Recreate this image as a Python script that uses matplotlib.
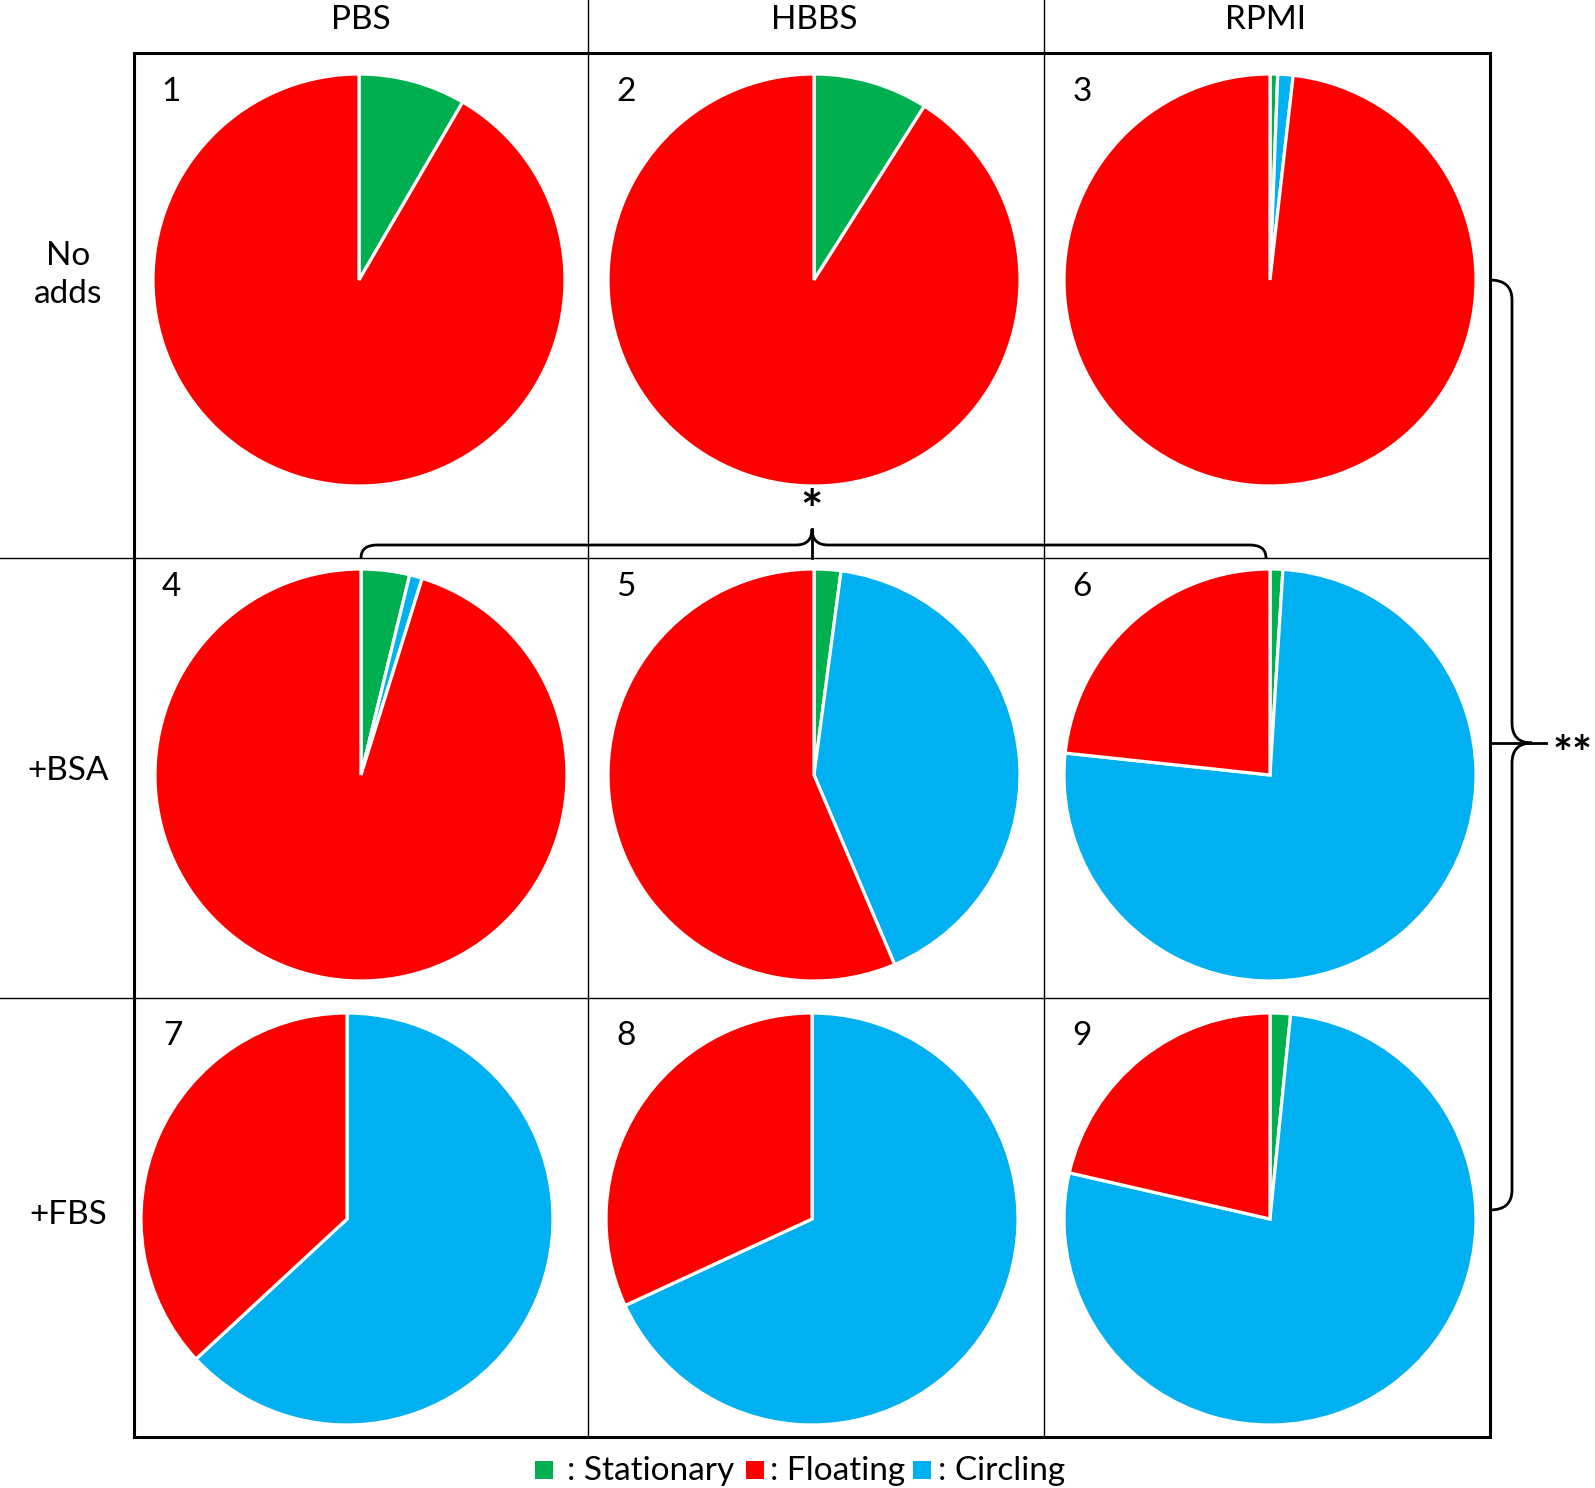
import matplotlib
matplotlib.use('Agg')
import matplotlib.pyplot as plt
from matplotlib.path import Path
from matplotlib.patches import PathPatch, Rectangle

plt.rcParams['font.family'] = ['Lato', 'DejaVu Sans']

# data (percent of cells), panels 1..9 row by row
media = ['PBS', 'HBBS', 'RPMI']
additives = ['No\nadds', '+BSA', '+FBS']
labels = ['Stationary', 'Circling', 'Floating']
colors = ['#00B050', '#00B0F0', '#FF0000']
stationary = [8.4, 9.0, 0.6, 3.8, 2.1, 1.0, 0.0, 0.0, 1.6]
circling = [0.0, 0.0, 1.2, 1.0, 41.5, 75.7, 63.1, 68.1, 77.0]
floating = [100 - s - c for s, c in zip(stationary, circling)]

W, H = 1595, 1488
fig = plt.figure(figsize=(W / 100, H / 100), dpi=100)
ax = fig.add_axes([0, 0, 1, 1])

# layout in pixel coords (y down)
col_x = [359, 814, 1270]
row_y = [280, 775, 1219]
col_shift = {3: 0, 4: 2, 7: -12, 8: -2}   # keyed by panel number
R = 206
box = (134, 53, 1490, 1437)
vlines = [588, 1044]
hlines = [558, 998]

for i in range(9):
    r, c = divmod(i, 3)
    vals = [stationary[i], circling[i], floating[i]]
    keep = [(v, col) for v, col in zip(vals, colors) if v > 0]
    # y axis is inverted, so counterclock=True here reads clockwise on screen
    ax.pie([v for v, _ in keep], colors=[col for _, col in keep],
           startangle=-90, counterclock=True,
           center=(col_x[c] + col_shift.get(i + 1, 0), row_y[r]), radius=R,
           wedgeprops=dict(edgecolor='white', linewidth=2.3))
    ax.text(col_x[c] - 188 + (2 if r == 2 and c == 0 else 0), row_y[r] - 188 + (0 if r < 2 else 5),
            str(i + 1), fontsize=24, ha='center', va='center')

# grid
for x in vlines:
    ax.plot([x, x], [0, box[3]], color='black', lw=1.0)
for y in hlines:
    ax.plot([0, box[2]], [y, y], color='black', lw=1.0)
ax.add_patch(Rectangle((box[0], box[1]), box[2] - box[0], box[3] - box[1],
                       fill=False, edgecolor='black', lw=2.2))

# headers
for c, m in enumerate(media):
    ax.text([361, 814, 1266][c], 20, m, fontsize=24, ha='center', va='center')
for r, a in enumerate(additives):
    ax.text(68, [275, 771, 1215][r], a, fontsize=24, ha='center', va='center',
            linespacing=1.3)

# horizontal brace with *
x0, x1, xm, yb, yh, yt, k = 361, 1266, 812, 558, 545, 529, 16
verts = [(x0, yb), (x0, yh), (x0 + k, yh), (xm - k, yh), (xm, yh), (xm, yt),
         (xm, yh), (xm + k, yh), (x1 - k, yh), (x1, yh), (x1, yb)]
codes = [Path.MOVETO, Path.CURVE3, Path.CURVE3, Path.LINETO, Path.CURVE3, Path.CURVE3,
         Path.CURVE3, Path.CURVE3, Path.LINETO, Path.CURVE3, Path.CURVE3]
ax.add_patch(PathPatch(Path(verts, codes), fill=False, lw=2.0, edgecolor='black'))
ax.plot([xm, xm], [yt, yb], color='black', lw=2.0)
ax.text(xm, 514, '*', fontsize=38, ha='center', va='center', fontweight='bold')

# vertical brace with **
xb, xv, xt, y0, y1, ym, k = 1490, 1512, 1546, 280, 1210, 743, 20
verts = [(xb, y0), (xv, y0), (xv, y0 + k), (xv, ym - k), (xv, ym), (xv + k, ym),
         (xv, ym), (xv, ym + k), (xv, y1 - k), (xv, y1), (xb, y1)]
ax.add_patch(PathPatch(Path(verts, codes), fill=False, lw=2.0, edgecolor='black'))
ax.plot([xb, xt], [ym, ym], color='black', lw=2.0)
ax.text(1573, 756, '**', fontsize=34, ha='center', va='center', fontweight='bold')

# legend
leg_items = [(535, 567, 'Stationary', colors[0]), (746, 770, 'Floating', colors[2]),
             (913, 938, 'Circling', colors[1])]
for sx, tx, name, col in leg_items:
    ax.add_patch(Rectangle((sx, 1461), 18, 18, facecolor=col, edgecolor='none'))
    ax.text(tx, 1471, ': ' + name, fontsize=24, ha='left', va='center')

ax.set_xlim(0, W)
ax.set_ylim(H, 0)
ax.set_aspect('auto')
ax.axis('off')

fig.savefig('out.png', dpi=100)
